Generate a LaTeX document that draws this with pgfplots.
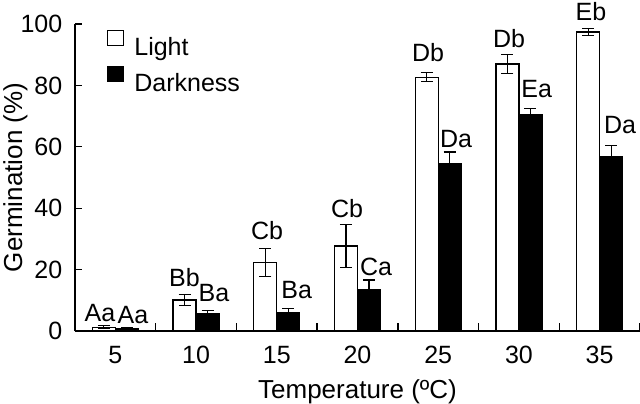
\documentclass[border=0pt]{standalone}
\usepackage{fontspec}
\setmainfont{Liberation Sans}
\usepackage{pgfplots}
\pgfplotsset{compat=1.18}
\newcommand{\fs}{\fontsize{25bp}{30bp}\selectfont}
\newcommand{\fl}{\fontsize{26bp}{31bp}\selectfont}
\begin{document}
\begin{tikzpicture}
\begin{axis}[
  scale only axis,
  width=565bp, height=307bp,
  clip=false,
  xmin=-0.5, xmax=6.5, ymin=0, ymax=100,
  axis lines*=left,
  axis line style={line width=1.3bp},
  every tick/.style={line width=1.3bp, black},
  tick align=inside,
  major tick length=7bp,
  minor tick length=8bp,
  xtick={0,...,6},
  xticklabels={5,10,15,20,25,30,35},
  x tick style={draw=none},
  minor xtick={-0.5,0.5,1.5,2.5,3.5,4.5,5.5,6.5},
  minor x tick style={draw=black, line width=1.3bp},
  ytick={0,20,...,100},
  /pgf/number format/assume math mode=true,
  tick label style={font=\fs},
  xticklabel style={inner sep=0pt, anchor=base, yshift=-32bp},
  yticklabel style={inner sep=0pt, anchor=east, xshift=-12.5bp},
  xlabel={Temperature (ºC)},
  ylabel={Germination (\%)},
  label style={font=\fl},
  xlabel style={at={(rel axis cs:0.5,0)}, anchor=base, yshift=-67bp, inner sep=0pt},
  ylabel style={at={(axis description cs:-0.0938,0.5)}, anchor=base, inner sep=0pt},
  legend style={at={(rel axis cs:0.0566,0.982)}, anchor=north west, draw=none, fill=none,
    font=\fs, inner sep=0pt, row sep=8.5bp, nodes={inner sep=0pt}},
  legend cell align=left,
  error bars/error bar style={line width=1.2bp, black},
  error bars/error mark options={rotate=90, mark size=6bp, line width=1.2bp, black},
]
\addplot[ybar, bar width=0.285, bar shift=0, draw=black, fill=white, line width=1.2bp,
  legend image code/.code={\draw[draw=black, fill=white, line width=1.2bp] (0bp,2bp) rectangle (16bp,17bp); \path (26bp,0bp);},
  error bars/.cd, y dir=both, y explicit]
  coordinates {
  (-0.1425,1.2) +- (0,0.5)
  (0.8575,10.1) +- (0,1.9)
  (1.8575,22.3) +- (0,4.6)
  (2.8575,27.7) +- (0,7.0)
  (3.8575,82.7) +- (0,1.5)
  (4.8575,87.0) +- (0,3.0)
  (5.8575,97.4) +- (0,1.2)
  };
\addlegendentry{Light}
\addplot[ybar, bar width=0.285, bar shift=0, draw=black, fill=black, line width=1.2bp,
  legend image code/.code={\draw[draw=black, fill=black, line width=1.2bp] (0bp,2bp) rectangle (16bp,17bp); \path (26bp,0bp);},
  error bars/.cd, y dir=both, y explicit]
  coordinates {
  (0.1425,0.7) +- (0,0.3)
  (1.1425,5.8) +- (0,0.8)
  (2.1425,6.1) +- (0,1.3)
  (3.1425,13.4) +- (0,3.2)
  (4.1425,54.4) +- (0,3.9)
  (5.1425,70.4) +- (0,2.0)
  (6.1425,56.8) +- (0,3.6)
  };
\addlegendentry{Darkness}
% letter labels above the error bars (placed at their baselines)
\addplot[draw=none, mark=none, forget plot, nodes near coords, point meta=explicit symbolic,
  nodes near coords style={font=\fs, anchor=base, inner sep=0pt}]
  coordinates {
  (-0.190,3.0) [Aa]
  (0.857,14.4) [Bb]
  (1.879,29.9) [Cb]
  (2.870,37.0) [Cb]
  (3.874,87.9) [Db]
  (4.877,92.3) [Db]
  (5.893,101.2) [Eb]
  (0.219,2.6) [Aa]
  (1.222,9.5) [Ba]
  (2.247,10.7) [Ba]
  (3.229,18.2) [Ca]
  (4.221,59.7) [Da]
  (5.220,76.0) [Ea]
  (6.252,64.4) [Da]
  };
\coordinate (O) at (rel axis cs:0,0);
\end{axis}
\pgfresetboundingbox
\path ([shift={(-75bp,-73bp)}]O) rectangle ([shift={(565bp,331bp)}]O);
\end{tikzpicture}
\end{document}
